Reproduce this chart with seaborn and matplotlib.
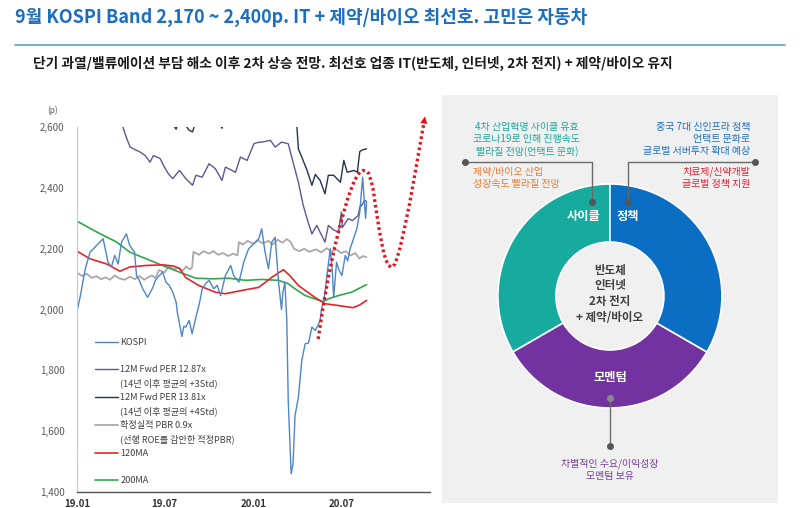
import pandas as pd
import matplotlib.pyplot as plt
import matplotlib.dates as mdates
from matplotlib.patches import Rectangle
from matplotlib.lines import Line2D
import seaborn as sns

sns.set_theme(style="white")
plt.rcParams["font.family"] = ["Noto Sans CJK KR", "DejaVu Sans"]
plt.rcParams["axes.unicode_minus"] = False

# ---- 데이터 ----
KOSPI_DATES = [
    "2019-01-02", "2019-01-08", "2019-01-18", "2019-01-28", "2019-02-07", "2019-02-17",
    "2019-02-24", "2019-03-06", "2019-03-13", "2019-03-20", "2019-03-27", "2019-04-03",
    "2019-04-13", "2019-04-20", "2019-04-30", "2019-05-04", "2019-05-10", "2019-05-17",
    "2019-05-27", "2019-06-07", "2019-06-12", "2019-06-17", "2019-06-27", "2019-07-04",
    "2019-07-11", "2019-07-18", "2019-07-25", "2019-07-28", "2019-08-06", "2019-08-10",
    "2019-08-14", "2019-08-21", "2019-08-27", "2019-09-04", "2019-09-11", "2019-09-17",
    "2019-09-24", "2019-10-01", "2019-10-11", "2019-10-18", "2019-10-25", "2019-11-04",
    "2019-11-15", "2019-11-21", "2019-12-02", "2019-12-12", "2019-12-22", "2020-01-05",
    "2020-01-12", "2020-01-18", "2020-01-25", "2020-02-01", "2020-02-08", "2020-02-15",
    "2020-02-22", "2020-02-28", "2020-03-02", "2020-03-06", "2020-03-10", "2020-03-13",
    "2020-03-19", "2020-03-23", "2020-03-27", "2020-04-03", "2020-04-10", "2020-04-17",
    "2020-04-24", "2020-05-01", "2020-05-08", "2020-05-15", "2020-05-18", "2020-05-21",
    "2020-05-27", "2020-06-01", "2020-06-08", "2020-06-12", "2020-06-15", "2020-06-21",
    "2020-06-26", "2020-07-02", "2020-07-09", "2020-07-14", "2020-07-19", "2020-07-26",
    "2020-08-02", "2020-08-08", "2020-08-14", "2020-08-17", "2020-08-20", "2020-08-22",
]
KOSPI_VALS = [
    2002, 2046, 2134, 2189, 2205, 2222,
    2233, 2156, 2140, 2178, 2150, 2222,
    2249, 2211, 2189, 2112, 2095, 2068,
    2040, 2073, 2095, 2106, 2123, 2090,
    2079, 2057, 2024, 1986, 1911, 1945,
    1942, 1964, 1920, 1975, 2019, 2068,
    2085, 2096, 2068, 2080, 2046, 2112,
    2145, 2112, 2090, 2156, 2200, 2222,
    2233, 2266, 2189, 2134, 2222, 2238,
    2090, 2000, 2057, 2090, 1964, 1700,
    1459, 1492, 1650, 1711, 1832, 1887,
    1890, 1942, 1931, 1953, 1964, 2002,
    2040, 2112, 2200, 2130, 2040, 2156,
    2130, 2112, 2178, 2160, 2200, 2233,
    2266, 2321, 2436, 2365, 2300, 2353,
]

PER3_DATES = [
    "2019-03-20", "2019-04-06", "2019-04-14", "2019-04-21", "2019-04-28", "2019-05-12",
    "2019-05-22", "2019-06-01", "2019-06-08", "2019-06-22", "2019-06-29", "2019-07-09",
    "2019-07-18", "2019-08-01", "2019-08-14", "2019-08-28", "2019-09-04", "2019-09-17",
    "2019-10-01", "2019-10-14", "2019-10-28", "2019-11-04", "2019-11-25", "2019-12-05",
    "2019-12-19", "2020-01-02", "2020-01-12", "2020-01-18", "2020-02-05", "2020-02-15",
    "2020-02-28", "2020-03-13", "2020-03-23", "2020-04-03", "2020-04-13", "2020-04-23",
    "2020-05-01", "2020-05-11", "2020-05-28", "2020-06-04", "2020-06-15", "2020-06-25",
    "2020-07-01", "2020-07-03", "2020-07-15", "2020-07-24", "2020-08-05", "2020-08-08",
    "2020-08-12", "2020-08-18", "2020-08-22",
]
PER3_VALS = [
    2660, 2600, 2562, 2535, 2529, 2518,
    2507, 2485, 2507, 2497, 2474, 2447,
    2431, 2458, 2431, 2409, 2442, 2436,
    2480, 2464, 2425, 2469, 2452, 2502,
    2491, 2546, 2551, 2551, 2557, 2535,
    2551, 2546, 2485, 2419, 2343, 2288,
    2249, 2277, 2222, 2277, 2262, 2255,
    2321, 2270, 2299, 2293, 2310, 2337,
    2343, 2359, 2356,
]

PER4_DATES = [
    "2019-07-01", "2019-07-18", "2019-07-25", "2019-08-01", "2019-08-14", "2019-08-21",
    "2019-08-28", "2019-09-04", "2019-10-01", "2019-10-14", "2019-10-28", "2019-11-04",
    "2019-11-25", "2019-12-19", "2020-01-12", "2020-02-15", "2020-03-13", "2020-03-27",
    "2020-03-31", "2020-04-03", "2020-04-10", "2020-04-17", "2020-04-21", "2020-05-01",
    "2020-05-08", "2020-05-18", "2020-05-28", "2020-06-04", "2020-06-15", "2020-06-29",
    "2020-07-06", "2020-07-13", "2020-07-27", "2020-08-03", "2020-08-08", "2020-08-14",
    "2020-08-22",
]
PER4_VALS = [
    2660, 2610, 2594, 2625, 2606, 2590,
    2585, 2620, 2660, 2640, 2597, 2645,
    2630, 2670, 2735, 2720, 2730, 2680,
    2600, 2529, 2502, 2474, 2458, 2409,
    2445, 2425, 2381, 2442, 2442, 2419,
    2491, 2452, 2458, 2452, 2520, 2526,
    2529,
]

PBR_DATES = [
    "2019-01-02", "2019-01-12", "2019-01-20", "2019-02-01", "2019-02-10", "2019-02-20",
    "2019-03-01", "2019-03-10", "2019-03-20", "2019-03-30", "2019-04-10", "2019-04-20",
    "2019-05-01", "2019-05-10", "2019-05-20", "2019-05-28", "2019-06-05", "2019-06-12",
    "2019-06-20", "2019-07-01", "2019-07-10", "2019-07-20", "2019-07-30", "2019-08-08",
    "2019-08-15", "2019-08-22", "2019-08-27", "2019-08-30", "2019-09-10", "2019-09-20",
    "2019-10-01", "2019-10-10", "2019-10-20", "2019-10-30", "2019-11-10", "2019-11-20",
    "2019-11-29", "2019-12-02", "2019-12-10", "2019-12-20", "2020-01-01", "2020-01-10",
    "2020-01-20", "2020-02-01", "2020-02-10", "2020-02-20", "2020-03-01", "2020-03-10",
    "2020-03-18", "2020-03-25", "2020-04-05", "2020-04-15", "2020-04-25", "2020-05-10",
    "2020-05-20", "2020-06-01", "2020-06-10", "2020-06-20", "2020-07-01", "2020-07-10",
    "2020-07-20", "2020-07-30", "2020-08-07", "2020-08-15", "2020-08-22",
]
PBR_VALS = [
    2120, 2110, 2118, 2104, 2110, 2100,
    2106, 2098, 2112, 2102, 2098, 2108,
    2100, 2110, 2098, 2106, 2112, 2104,
    2130, 2122, 2142, 2132, 2138, 2128,
    2142, 2132, 2138, 2190, 2180, 2192,
    2184, 2192, 2180, 2186, 2176, 2184,
    2178, 2222, 2214, 2226, 2216, 2228,
    2218, 2226, 2214, 2230, 2220, 2232,
    2222, 2200, 2192, 2200, 2190, 2198,
    2188, 2202, 2190, 2198, 2186, 2192,
    2178, 2186, 2168, 2176, 2172,
]

MA120_DATES = [
    "2019-01-02", "2019-01-28", "2019-03-03", "2019-03-31", "2019-04-20", "2019-05-24",
    "2019-06-27", "2019-07-20", "2019-08-01", "2019-08-14", "2019-09-10", "2019-10-14",
    "2019-11-04", "2019-12-09", "2020-01-12", "2020-02-08", "2020-03-03", "2020-03-16",
    "2020-04-03", "2020-05-07", "2020-05-28", "2020-06-25", "2020-07-25", "2020-08-08",
    "2020-08-22",
]
MA120_VALS = [
    2191, 2167, 2150, 2126, 2140, 2145,
    2147, 2143, 2135, 2105, 2079, 2057,
    2052, 2063, 2073, 2106, 2131, 2112,
    2079, 2040, 2019, 2013, 2006, 2015,
    2030,
]

MA200_DATES = [
    "2019-01-02", "2019-02-11", "2019-03-24", "2019-04-20", "2019-05-24", "2019-06-27",
    "2019-08-01", "2019-09-04", "2019-10-08", "2019-11-11", "2019-12-16", "2020-01-18",
    "2020-02-22", "2020-03-13", "2020-03-27", "2020-04-17", "2020-05-07", "2020-05-24",
    "2020-06-04", "2020-06-25", "2020-07-22", "2020-08-22",
]
MA200_VALS = [
    2290, 2255, 2222, 2189, 2167, 2145,
    2123, 2103, 2101, 2103, 2096, 2099,
    2096, 2085, 2068, 2046, 2035, 2026,
    2035, 2046, 2057, 2082,
]

# 향후 경로 (빨간 점선 화살표)
PROJ_DATES = [
    "2020-05-14", "2020-05-24", "2020-06-04", "2020-06-17", "2020-07-01", "2020-07-15",
    "2020-07-28", "2020-08-08", "2020-08-15", "2020-08-22", "2020-08-27", "2020-09-04",
    "2020-09-11", "2020-09-18", "2020-09-27", "2020-10-05", "2020-10-12", "2020-10-20",
    "2020-10-29", "2020-11-09", "2020-11-19", "2020-11-29", "2020-12-10", "2020-12-19",
    "2020-12-22",
]
PROJ_VALS = [
    1903, 2008, 2106, 2205, 2293, 2370,
    2425, 2452, 2458, 2455, 2447, 2403,
    2326, 2255, 2183, 2148, 2139, 2150,
    2194, 2271, 2348, 2436, 2535, 2617,
    2645,
]

LEGEND_LABELS = [
    "KOSPI",
    "12M Fwd PER 12.87x\n(14년 이후 평균의 +3Std)",
    "12M Fwd PER 13.81x\n(14년 이후 평균의 +4Std)",
    "확정실적 PBR 0.9x\n(선행 ROE를 감안한 적정PBR)",
    "120MA",
    "200MA",
]
Y_TICKS = [1400, 1600, 1800, 2000, 2200, 2400, 2600]
X_TICKS = ["2019-01-01", "2019-07-01", "2020-01-01", "2020-07-01"]

DONUT_NAMES = ["사이클", "모멘텀", "정책"]
DONUT_SHARES = [1, 1, 1]
DONUT_COLORS = ["#17ABA0", "#7232A0", "#0A6EC2"]
CENTER_TEXT = "반도체\n인터넷\n2차 전지\n+ 제약/바이오"


def frame(dates, vals):
    return pd.DataFrame({"date": pd.to_datetime(dates), "value": vals})


fig = plt.figure(figsize=(8, 5.08), dpi=100)
fig.patch.set_facecolor("white")

# 제목
fig.text(0.019, 0.965, "9월 KOSPI Band 2,170 ~ 2,400p. IT + 제약/바이오 최선호. 고민은 자동차",
         color="#1B6FC0", fontsize=13.0, fontweight="bold", ha="left", va="center")
fig.add_artist(Line2D([0.019, 0.981], [0.911, 0.911], color="#6FA8DC", lw=1.3,
                      transform=fig.transFigure))
fig.text(0.041, 0.876,
         "단기 과열/밸류에이션 부담 해소 이후 2차 상승 전망. 최선호 업종 IT(반도체, 인터넷, 2차 전지) + 제약/바이오 유지",
         color="#1a1a1a", fontsize=9.9, fontweight="bold", ha="left", va="center")

# ---- 왼쪽: KOSPI 밴드 차트 ----
ax = fig.add_axes([0.0963, 0.0321, 0.441, 0.7173])
ax.set_facecolor("white")

sns.lineplot(data=frame(PBR_DATES, PBR_VALS), x="date", y="value", ax=ax,
             color="#A8A8A8", lw=1.3, label=LEGEND_LABELS[3])
sns.lineplot(data=frame(MA200_DATES, MA200_VALS), x="date", y="value", ax=ax,
             color="#2EA84A", lw=1.2, label=LEGEND_LABELS[5])
sns.lineplot(data=frame(MA120_DATES, MA120_VALS), x="date", y="value", ax=ax,
             color="#E3262B", lw=1.2, label=LEGEND_LABELS[4])
sns.lineplot(data=frame(PER4_DATES, PER4_VALS), x="date", y="value", ax=ax,
             color="#22324F", lw=1.0, label=LEGEND_LABELS[2])
sns.lineplot(data=frame(PER3_DATES, PER3_VALS), x="date", y="value", ax=ax,
             color="#65558F", lw=1.0, label=LEGEND_LABELS[1])
sns.lineplot(data=frame(KOSPI_DATES, KOSPI_VALS), x="date", y="value", ax=ax,
             color="#4C86C8", lw=1.0, label=LEGEND_LABELS[0])

proj = frame(PROJ_DATES, PROJ_VALS)
sns.lineplot(data=proj.iloc[:-1], x="date", y="value", ax=ax, color="#E3141C",
             lw=2.4, linestyle=(0, (0.8, 0.9)), clip_on=False)
ax.annotate("", xy=(proj["date"].iloc[-1], proj["value"].iloc[-1]),
            xytext=(proj["date"].iloc[-2], proj["value"].iloc[-2]),
            arrowprops=dict(arrowstyle="-|>", color="#E3141C", lw=0, mutation_scale=13),
            annotation_clip=False)

ax.set_ylim(1400, 2600)
ax.set_xlim(pd.Timestamp("2019-01-01"), pd.Timestamp("2020-12-31"))
ax.set_yticks(Y_TICKS)
ax.set_yticklabels([f"{v:,}" for v in Y_TICKS])
ax.set_xticks(pd.to_datetime(X_TICKS))
ax.xaxis.set_major_formatter(mdates.DateFormatter("%y.%m"))
ax.set_xlabel("")
ax.set_ylabel("")
for s in ["top", "right"]:
    ax.spines[s].set_visible(False)
ax.spines["left"].set_color("#C8C8C8")
ax.spines["left"].set_linewidth(0.8)
ax.spines["bottom"].set_color("#505050")
ax.spines["bottom"].set_linewidth(1.0)
ax.tick_params(axis="y", length=3, direction="in", color="#C8C8C8",
               labelsize=7, labelcolor="#595959", pad=9)
ax.tick_params(axis="x", length=0, labelsize=7, labelcolor="#333333", pad=5)
for t in ax.get_xticklabels():
    t.set_fontweight("bold")
fig.text(0.059, 0.783, "(p)", fontsize=6, color="#595959", ha="left", va="center")

# 범례: 두 줄 라벨은 줄마다 한 칸씩, 빈 칸으로 간격 조정
if ax.get_legend() is not None:
    ax.get_legend().remove()
handles, labels = ax.get_legend_handles_labels()
hmap = dict(zip(labels, handles))
blank = Line2D([], [], color="none")
leg_h, leg_l = [], []
for i, lab in enumerate(LEGEND_LABELS):
    parts = lab.split("\n")
    leg_h.append(hmap[lab])
    leg_l.append(parts[0])
    for extra in parts[1:]:
        leg_h.append(blank)
        leg_l.append(extra)
    if i in (0, 4):
        leg_h.append(blank)
        leg_l.append(" ")
ax.legend(leg_h, leg_l, loc="upper left", bbox_to_anchor=(0.03, 0.442), frameon=False,
          fontsize=6.6, handlelength=2.5, handletextpad=0.25, borderpad=0.3,
          labelspacing=0.5, labelcolor="#404040")

# ---- 오른쪽: 도넛 ----
fig.patches.append(Rectangle((0.552, 0.0093), 0.4208, 0.8037, transform=fig.transFigure,
                             facecolor="#F0F0F0", edgecolor="none", zorder=-10))
dx = fig.add_axes([0.552, 0.0093, 0.4208, 0.8037])
dx.patch.set_alpha(0)
cx, cy, R = 168.3, 207.3, 112
dx.pie(DONUT_SHARES, colors=DONUT_COLORS, startangle=90, counterclock=True,
       center=(cx, cy), radius=R, frame=True,
       wedgeprops=dict(width=58, edgecolor="white", linewidth=1.2))
dx.set_xlim(0, 336.6)
dx.set_ylim(0, 408.3)
dx.set_aspect("auto")
dx.axis("off")

seg_font = dict(color="white", fontsize=8.8, fontweight="bold", ha="center", va="center")
dx.text(cx - 26, cy + 79, DONUT_NAMES[0], **seg_font)
dx.text(cx + 18, cy + 79, DONUT_NAMES[2], **seg_font)
dx.text(cx, cy - 82, DONUT_NAMES[1], **seg_font)
dx.text(cx, cy + 2, CENTER_TEXT, color="#404040", fontsize=8.3, fontweight="bold",
        ha="center", va="center", linespacing=1.3)

ann = dict(fontsize=7.2, fontweight="medium", va="center", linespacing=1.25)
dx.text(85.3, 363.8, "4차 산업혁명 사이클 유효\n코로나19로 인해 진행속도\n빨라질 전망(언택트 문화)",
        color="#1AA89B", ha="center", **ann)
dx.text(31.3, 325.8, "제약/바이오 산업\n성장속도 빨라질 전망", color="#E97B2E", ha="left", **ann)
dx.text(308.3, 363.8, "중국 7대 신인프라 정책\n언택트 문화로\n글로벌 서버투자 확대 예상",
        color="#1F6EBF", ha="right", **ann)
dx.text(308.3, 325.8, "치료제/신약개발\n글로벌 정책 지원", color="#E5202E", ha="right", **ann)
dx.text(cx, 33.3, "차별적인 수요/이익성장\n모멘텀 보유", color="#7B3FA0", ha="center", **ann)

conn = dict(color="#6A6A6A", lw=1.0)
dot = dict(marker="o", markersize=4, color="#555555", linestyle="none")
dx.plot([23.3, 150, 150], [341.6, 341.6, 301.6], **conn)
dx.plot([23.3, 150], [341.6, 301.6], **dot)
dx.plot([313.3, 186.6, 186.6], [341.6, 341.6, 301.6], **conn)
dx.plot([313.3, 186.6], [341.6, 301.6], **dot)
dx.plot([cx, cx], [105, 57.6], **conn)
dx.plot([cx], [105], marker="o", markersize=4, color="#8A8A8A", linestyle="none")
dx.plot([cx], [57.6], **dot)

fig.savefig("out.png", dpi=100)
